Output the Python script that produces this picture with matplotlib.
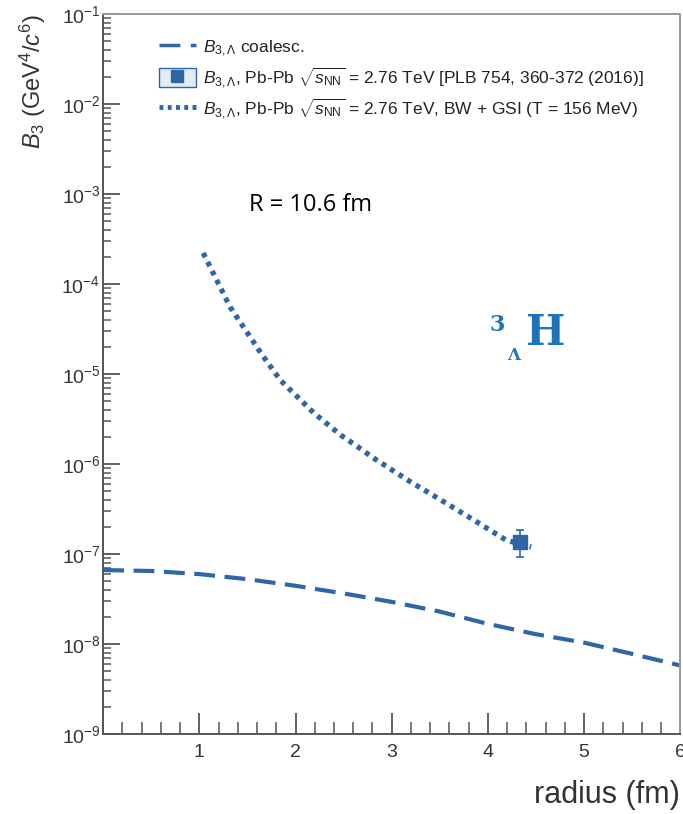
import matplotlib
matplotlib.use("Agg")
import matplotlib.pyplot as plt
import matplotlib.ticker as ticker
from matplotlib.lines import Line2D
from matplotlib.patches import Patch

plt.rcParams["font.family"] = ["Liberation Sans", "DejaVu Sans"]
plt.rcParams["mathtext.fontset"] = "custom"
plt.rcParams["mathtext.rm"] = "Liberation Sans"
plt.rcParams["mathtext.it"] = "Liberation Sans:italic"
plt.rcParams["mathtext.bf"] = "Liberation Sans:bold"

# coalescence curve B3,Lambda vs radius
coal_r = [0.0, 0.5, 1.0, 1.5, 2.0, 2.5, 3.0, 3.5, 4.0, 4.5, 5.0, 5.5, 6.0]
coal_b3 = [6.65e-8, 6.5e-8, 6.0e-8, 5.27e-8, 4.45e-8, 3.66e-8, 2.95e-8,
           2.3e-8, 1.68e-8, 1.29e-8, 1.04e-8, 7.8e-9, 5.8e-9]

# BW + GSI curve
gsi_r = [1.04, 1.32, 1.64, 1.84, 2.19, 2.47, 2.65, 2.81, 3.17, 3.51, 3.85, 4.19, 4.45]
gsi_b3 = [2.21e-4, 5.55e-5, 1.71e-5, 8.6e-6, 3.7e-6, 2.1e-6, 1.55e-6,
          1.17e-6, 6.6e-7, 4.0e-7, 2.4e-7, 1.43e-7, 1.2e-7]

# measured point, Pb-Pb 2.76 TeV
meas_r = [4.33]
meas_b3 = [1.36e-7]
meas_err_lo = [0.43e-7]
meas_err_hi = [0.49e-7]

blue = "#2e66a6"
grey = "#555555"

fig = plt.figure(figsize=(6.83, 8.14), dpi=100)
ax = fig.add_axes([0.151, 0.098, 0.845, 0.885])

ax.plot(coal_r, coal_b3, color=blue, lw=3.0, dashes=(5, 2.3), dash_capstyle="butt")
ax.plot(gsi_r, gsi_b3, color=blue, lw=3.8, dashes=(0.9, 1.0), dash_capstyle="butt")
ax.errorbar(meas_r, meas_b3, yerr=[meas_err_lo, meas_err_hi], fmt="s", color=blue,
            ms=10, elinewidth=1.2, capsize=3, capthick=1.2)

ax.set_yscale("log")
ax.set_xlim(0, 6)
ax.set_ylim(1e-9, 1e-1)

ax.xaxis.set_major_locator(ticker.FixedLocator([1, 2, 3, 4, 5, 6]))
ax.xaxis.set_minor_locator(ticker.MultipleLocator(0.2))
ax.yaxis.set_major_locator(ticker.LogLocator(base=10, numticks=20))
ax.yaxis.set_minor_locator(ticker.LogLocator(base=10, subs=range(2, 10), numticks=20))
ax.yaxis.set_minor_formatter(ticker.NullFormatter())

ax.tick_params(axis="both", which="both", direction="in", color=grey,
               top=False, right=False, labelsize=14, labelcolor="#333333")
ax.tick_params(axis="x", which="major", length=15, width=1.3, pad=7)
ax.tick_params(axis="x", which="minor", length=8.5, width=1.1)
ax.tick_params(axis="y", which="major", length=12.5, width=1.3, pad=2)
ax.tick_params(axis="y", which="minor", length=6, width=1.1)

for sp in ax.spines.values():
    sp.set_color(grey)
    sp.set_linewidth(1.4)
ax.spines["top"].set_color("#999999")
ax.spines["right"].set_color("#999999")

ax.set_ylabel(r"$B_3$ (GeV$^4$/$c^6$)", fontsize=17, color="#333333", loc="top")
ax.yaxis.set_label_coords(-0.096, 1.0)
ax.set_xlabel("radius (fm)", fontsize=22, color="#333333", loc="right")
ax.xaxis.set_label_coords(1.0, -0.064)

handles = [
    Line2D([], [], color=blue, lw=2.5, dashes=(6, 3)),
    (Patch(facecolor="#e3ecf6", edgecolor=blue, lw=1.0),
     Line2D([], [], color=blue, marker="s", ms=8, ls="none")),
    Line2D([], [], color=blue, lw=3.5, dashes=(0.8, 0.9)),
]
labels = [
    r"$B_{3,\Lambda}$ coalesc.",
    r"$B_{3,\Lambda}$, Pb-Pb $\sqrt{s_{\rm NN}}$ = 2.76 TeV [PLB 754, 360-372 (2016)]",
    r"$B_{3,\Lambda}$, Pb-Pb $\sqrt{s_{\rm NN}}$ = 2.76 TeV, BW + GSI (T = 156 MeV)",
]
leg = ax.legend(handles, labels, loc="upper left", bbox_to_anchor=(0.085, 0.977),
                frameon=False, fontsize=12.5, handlelength=2.1, handleheight=1.3,
                handletextpad=0.4, labelspacing=0.36, borderaxespad=0)
for t in leg.get_texts():
    t.set_color("#222222")

ax.text(0.359, 0.735, "R = 10.6 fm", transform=ax.transAxes, fontsize=17,
        family="Open Sans", ha="center", va="center", color="black")

hcol = "#1f74b8"
ax.text(0.683, 0.568, "3", transform=ax.transAxes, fontsize=16, family="DejaVu Serif",
        fontweight="bold", color=hcol, ha="center", va="center")
ax.text(0.711, 0.526, "Λ", transform=ax.transAxes, fontsize=12, family="DejaVu Serif",
        fontweight="bold", color=hcol, ha="center", va="center")
ax.text(0.733, 0.540, "H", transform=ax.transAxes, fontsize=30, family="DejaVu Serif",
        fontweight="bold", color=hcol, ha="left", va="baseline")

fig.savefig("out.png", dpi=100)
